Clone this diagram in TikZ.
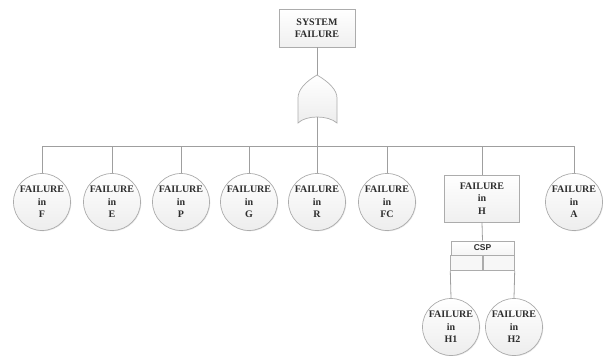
\documentclass[tikz,border=0pt]{standalone}
\usepackage{fontspec}
\setmainfont{Liberation Serif}
\setsansfont{Liberation Sans}
\usetikzlibrary{shadows}
\begin{document}
\begin{tikzpicture}[x=1pt,y=-1pt,
  wire/.style={draw=gray!75, line width=0.8pt},
  evbox/.style={draw=gray!65, line width=0.7pt, top color=white, bottom color=gray!12,
    align=center, inner sep=0pt, text=black!82,
    font=\fontsize{10}{12.5}\selectfont\bfseries},
  basic/.style={circle, draw=gray!65, line width=0.7pt, top color=white, bottom color=gray!14,
    minimum size=57pt, inner sep=0pt, align=center, text=black!82,
    drop shadow={opacity=0.18, shadow xshift=0.8pt, shadow yshift=-0.8pt},
    font=\fontsize{10}{12.5}\selectfont\bfseries},
  gatefill/.style={draw=gray!65, line width=0.7pt, top color=white, bottom color=gray!14}
]
\useasboundingbox (0,0) rectangle (603,356);

% top event
\node[evbox, minimum width=76pt, minimum height=38pt] (top) at (317,28) {SYSTEM\\FAILURE};

% OR gate
\coordinate (gtop) at (317,75);
\coordinate (gbot) at (317,117);
\draw[wire] (top.south) -- (gtop);
\path[gatefill] (gtop) .. controls (305,82) and (298,90) .. (298,98) -- (298,123)
  .. controls (306,115) and (328,115) .. (337,123) -- (337,98)
  .. controls (337,90) and (329,82) .. (gtop) -- cycle;

% basic events under the OR gate
\node[basic] (F)  at (42,202)  {FAILURE\\in\\F};
\node[basic] (E)  at (112,202) {FAILURE\\in\\E};
\node[basic] (P)  at (181,202) {FAILURE\\in\\P};
\node[basic] (G)  at (249,202) {FAILURE\\in\\G};
\node[basic] (R)  at (317,202) {FAILURE\\in\\R};
\node[basic] (FC) at (387,202) {FAILURE\\in\\FC};
\node[evbox, minimum width=75pt, minimum height=47pt] (H) at (482,198.5) {FAILURE\\in\\H};
\node[basic] (A)  at (574,202) {FAILURE\\in\\A};

\coordinate (bus) at (317,146);
\draw[wire] (gbot) -- (bus);
\foreach \n in {F,E,P,G,R,FC,H,A} {
  \draw[wire] (bus) -| (\n);
}

% cold spare gate
\node[draw=gray!65, line width=0.7pt, top color=white, bottom color=gray!8,
  minimum width=63pt, minimum height=14pt, inner sep=0pt, text=black!82,
  font=\sffamily\bfseries\fontsize{8.5}{9}\selectfont] (csp) at (482.5,248) {CSP};
\node[draw=gray!65, line width=0.7pt, fill=gray!6,
  minimum width=31.5pt, minimum height=15pt, inner sep=0pt, anchor=north east] (cspl) at (csp.south) {};
\node[draw=gray!65, line width=0.7pt, fill=gray!6,
  minimum width=31.5pt, minimum height=15pt, inner sep=0pt, anchor=north west] (cspr) at (csp.south) {};
\draw[wire] (H.south) -- (csp.north);

\node[basic] (H1) at (451,327) {FAILURE\\in\\H1};
\node[basic] (H2) at (514,327) {FAILURE\\in\\H2};
\draw[wire] (cspl.south west) -- (H1.north);
\draw[wire] (cspr.south east) -- (H2.north);
\end{tikzpicture}
\end{document}
